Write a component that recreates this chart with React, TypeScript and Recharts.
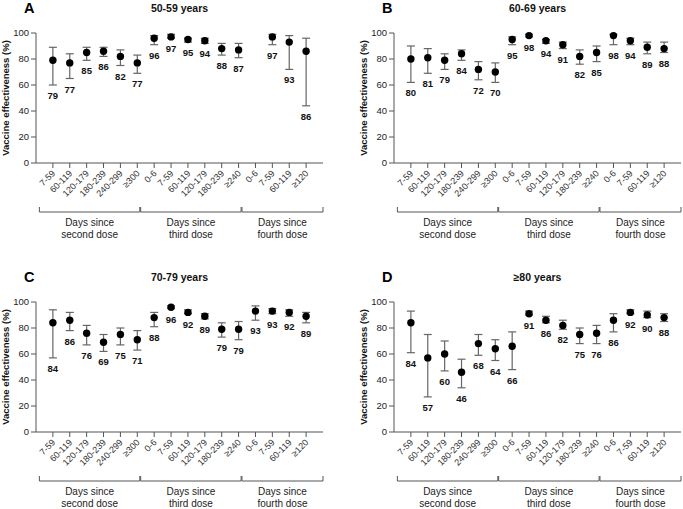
import React from 'react';
import { ScatterChart, Scatter, XAxis, YAxis, ErrorBar } from 'recharts';

const categories = [
  '7-59', '60-119', '120-179', '180-239', '240-299', '≥300',
  '0-6', '7-59', '60-119', '120-179', '180-239', '≥240',
  '0-6', '7-59', '60-119', '≥120',
];
const yTicks = [0, 20, 40, 60, 80, 100];
const groupFirstLast = [[1, 6], [7, 12], [13, 16]];
const groupLabels = [
  ['Days since', 'second dose'],
  ['Days since', 'third dose'],
  ['Days since', 'fourth dose'],
];

const aValues = [79, 77, 85, 86, 82, 77, 96, 97, 95, 94, 88, 87, null, 97, 93, 86];
const aLower = [60, 65, 79, 82, 75, 69, 91, 96, 93, 92, 83, 81, null, 91, 72, 44];
const aUpper = [89, 84, 89, 89, 87, 83, 98, 99, 96, 96, 92, 92, null, 99, 98, 96];

const bValues = [80, 81, 79, 84, 72, 70, 95, 98, 94, 91, 82, 85, 98, 94, 89, 88];
const bLower = [62, 69, 72, 79, 64, 62, 91, 97, 92, 88, 76, 78, 91, 91, 84, 85];
const bUpper = [90, 88, 84, 87, 78, 77, 97, 99, 95, 93, 87, 90, 99, 96, 93, 93];

const cValues = [84, 86, 76, 69, 75, 71, 88, 96, 92, 89, 79, 79, 93, 93, 92, 89];
const cLower = [57, 78, 67, 62, 67, 63, 81, 95, 91, 87, 73, 71, 86, 91, 89, 84];
const cUpper = [94, 92, 82, 75, 80, 78, 92, 97, 94, 91, 84, 85, 97, 95, 94, 92];

const dValues = [84, 57, 60, 46, 68, 64, 66, 91, 86, 82, 75, 76, 86, 92, 90, 88];
const dLower = [61, 27, 47, 34, 59, 55, 48, 90, 84, 79, 68, 68, 77, 91, 88, 85];
const dUpper = [93, 75, 70, 56, 75, 71, 77, 93, 89, 86, 80, 82, 91, 94, 93, 91];

const FONT = "Arial, 'Liberation Sans', Helvetica, sans-serif";
const W = 330;
const H = 240;
const PLOT_LEFT = 36;
const PLOT_W = 287;
const PLOT_TOP = 33;
const PLOT_H = 130;
const X_MAX = 17;
const xTickValues = categories.map((_, i) => i + 1);

const px = (v: number) => PLOT_LEFT + (v * PLOT_W) / X_MAX;

const XTick = (props: any) => {
  const { x, y, payload } = props;
  const ax = x + 3;
  const ay = y + 6;
  return (
    <text
      x={ax}
      y={ay}
      transform={`rotate(-45, ${ax}, ${ay})`}
      textAnchor="end"
      fontSize={9}
      fontFamily={FONT}
      fill="#333"
    >
      {categories[payload.value - 1]}
    </text>
  );
};

const Dot = (p: any) => <circle cx={p.cx} cy={p.cy} r={3.7} fill="#000" />;
const ValueLabel = (p: any) => (
  <text
    x={p.cx}
    y={p.cy + 14}
    textAnchor="middle"
    fontSize={9.5}
    fontWeight="bold"
    fontFamily={FONT}
    fill="#111"
  >
    {p.payload.v}
  </text>
);

type PanelProps = {
  letter: string;
  title: string;
  values: (number | null)[];
  lower: (number | null)[];
  upper: (number | null)[];
  left: number;
  top: number;
};

function Panel({ letter, title, values, lower, upper, left, top }: PanelProps) {
  const points: any[] = [];
  const labels: any[] = [];
  values.forEach((v, i) => {
    if (v == null) return;
    const lo = lower[i] as number;
    const hi = upper[i] as number;
    points.push({ x: i + 1, y: v, err: [v - lo, hi - v] });
    labels.push({ x: i + 1, y: lo, v });
  });
  const axisY = PLOT_TOP + PLOT_H;
  const bracketY = axisY + 49;
  return (
    <div style={{ position: 'absolute', left, top, width: W, height: H }}>
      <ScatterChart
        width={W}
        height={H}
        margin={{ top: PLOT_TOP, right: W - PLOT_LEFT - PLOT_W, bottom: H - PLOT_TOP - PLOT_H - 45, left: 0 }}
      >
        <XAxis
          type="number"
          dataKey="x"
          domain={[0, X_MAX]}
          ticks={xTickValues}
          interval={0}
          tick={<XTick />}
          tickSize={5}
          tickMargin={0}
          height={45}
          stroke="#555"
          allowDataOverflow
        />
        <YAxis
          type="number"
          dataKey="y"
          domain={[0, 100]}
          ticks={yTicks}
          interval={0}
          width={PLOT_LEFT}
          tickSize={5}
          tickMargin={2}
          stroke="#555"
          tick={{ fontSize: 9.5, fill: '#222', fontFamily: FONT }}
        />
        <Scatter data={points} fill="#000" isAnimationActive={false} shape={Dot}>
          <ErrorBar dataKey="err" direction="y" width={4} stroke="#666" strokeWidth={1.2} />
        </Scatter>
        <Scatter data={labels} fill="#000" isAnimationActive={false} shape={ValueLabel} />
      </ScatterChart>
      <svg
        width={W}
        height={H}
        style={{ position: 'absolute', left: 0, top: 0, pointerEvents: 'none', overflow: 'visible' }}
      >
        <text x={24} y={12.5} fontSize={14.5} fontWeight="bold" fontFamily={FONT} fill="#000">
          {letter}
        </text>
        <text
          x={PLOT_LEFT + PLOT_W / 2}
          y={11.5}
          textAnchor="middle"
          fontSize={10.5}
          fontWeight="bold"
          fontFamily={FONT}
          fill="#111"
        >
          {title}
        </text>
        <text
          x={9}
          y={PLOT_TOP + PLOT_H / 2}
          transform={`rotate(-90, 9, ${PLOT_TOP + PLOT_H / 2})`}
          textAnchor="middle"
          fontSize={9.5}
          fontWeight="bold"
          fontFamily={FONT}
          fill="#111"
        >
          Vaccine effectiveness (%)
        </text>
        {groupFirstLast.map(([first, last], gi) => {
          const x1 = px(first - 0.8);
          const x2 = px(gi === groupFirstLast.length - 1 ? X_MAX : last + 0.15);
          const cx = (x1 + x2) / 2;
          return (
            <g key={gi}>
              <path
                d={`M${x1},${bracketY - 5} L${x1},${bracketY} L${x2},${bracketY} L${x2},${bracketY - 5}`}
                fill="none"
                stroke="#555"
                strokeWidth={1}
              />
              <text x={cx} y={bracketY + 14} textAnchor="middle" fontSize={10} fontFamily={FONT} fill="#222">
                {groupLabels[gi][0]}
              </text>
              <text x={cx} y={bracketY + 25.5} textAnchor="middle" fontSize={10} fontFamily={FONT} fill="#222">
                {groupLabels[gi][1]}
              </text>
            </g>
          );
        })}
      </svg>
    </div>
  );
}

export default function App() {
  return (
    <div
      style={{
        position: 'absolute',
        left: 0,
        top: 0,
        width: 683,
        height: 509,
        overflow: 'hidden',
        background: '#fff',
      }}
    >
      <Panel letter="A" title="50-59 years" values={aValues} lower={aLower} upper={aUpper} left={0} top={0} />
      <Panel letter="B" title="60-69 years" values={bValues} lower={bLower} upper={bUpper} left={358} top={0} />
      <Panel letter="C" title="70-79 years" values={cValues} lower={cLower} upper={cUpper} left={0} top={268.5} />
      <Panel letter="D" title="≥80 years" values={dValues} lower={dLower} upper={dUpper} left={358} top={268.5} />
    </div>
  );
}
